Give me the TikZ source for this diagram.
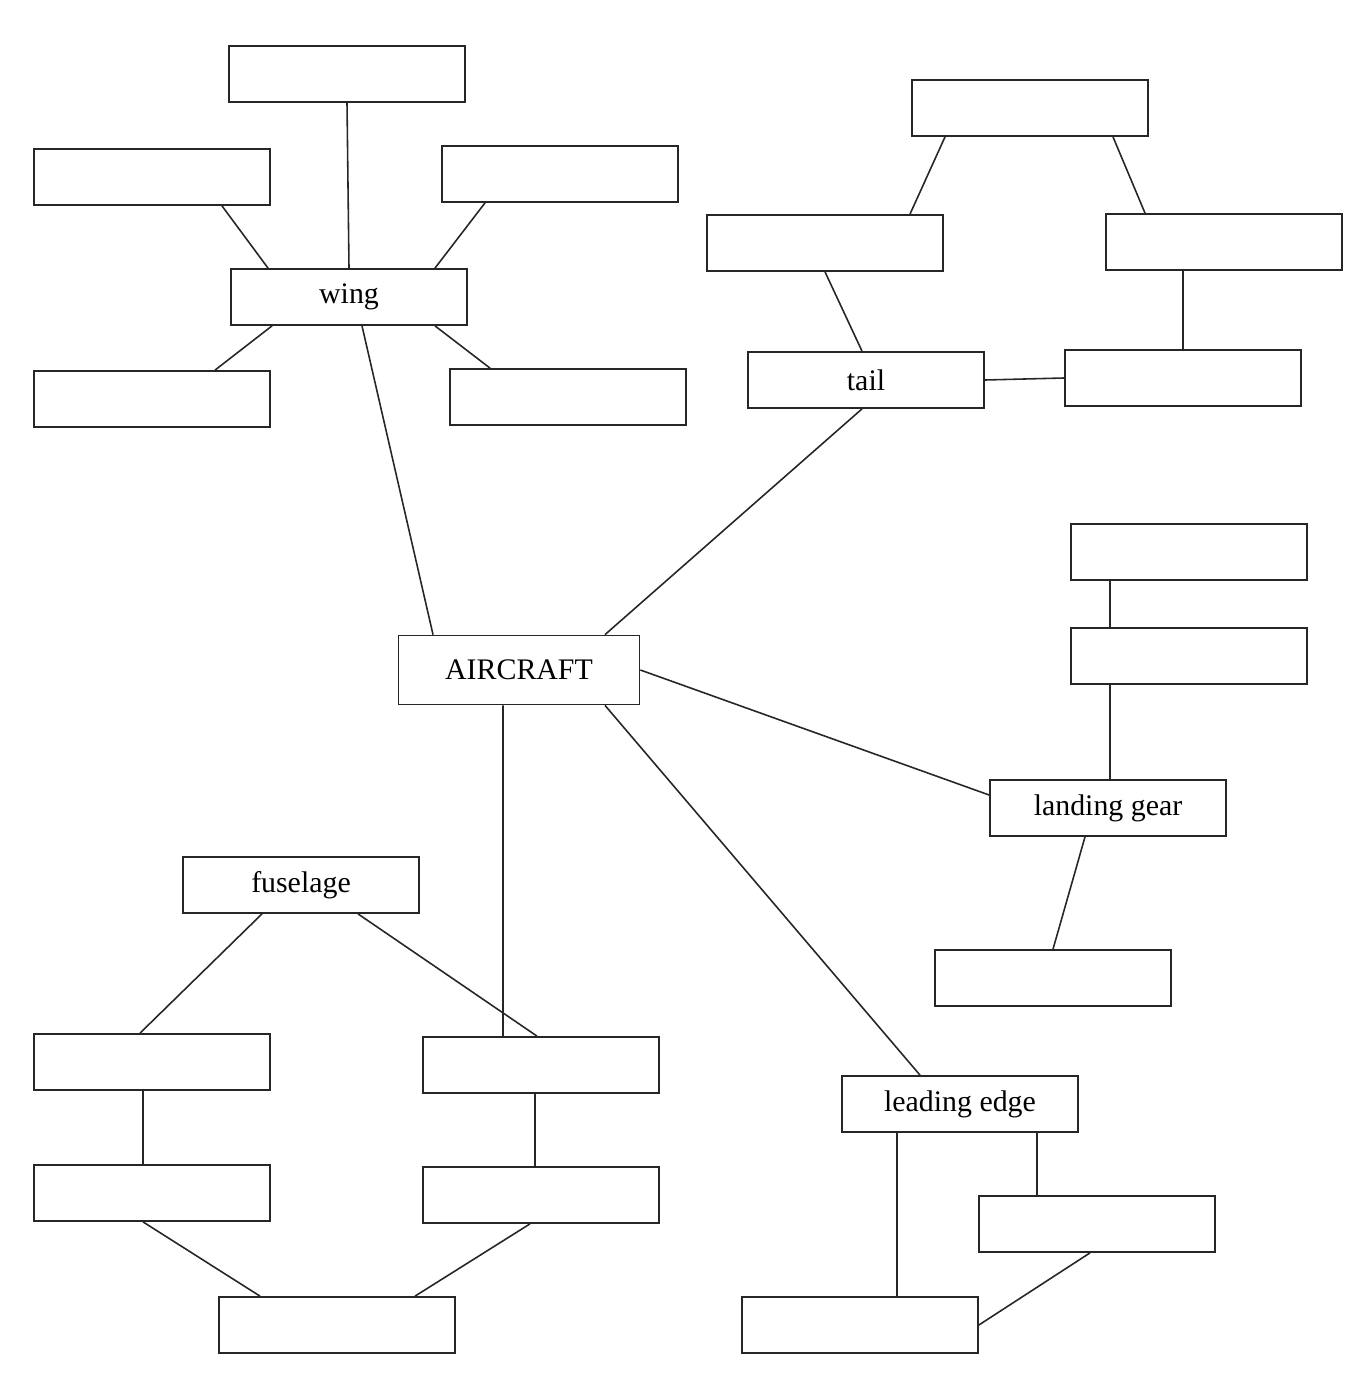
\documentclass[tikz,border=0pt]{standalone}
\usepackage{fontspec}
\setmainfont{Liberation Serif}
\usepackage{tikz}
\tikzset{
  part/.style={draw=black!85, line width=1pt, fill=white, minimum width=4.72cm,
    minimum height=1.12cm, inner sep=0pt, font=\fontsize{17}{20}\selectfont},
  hub/.style={part, minimum width=4.82cm, minimum height=1.38cm},
  link/.style={draw=black!85, line width=0.9pt}
}
\begin{document}
\begin{tikzpicture}[x=0.02cm, y=-0.02cm]
    \useasboundingbox (0,0) rectangle (1352,1385);

    % wing branch
    \node[part] (wtop) at (347,74) {};
    \node[part] (wul) at (152,177) {};
    \node[part] (wur) at (560,174) {};
    \node[part] (wing) at (349,297) {wing};
    \node[part] (wll) at (152,399) {};
    \node[part] (wlr) at (568,397) {};

    % tail branch
    \node[part] (ttop) at (1030,108) {};
    \node[part] (tml) at (825,243) {};
    \node[part] (tmr) at (1224,242) {};
    \node[part] (tail) at (866,380) {tail};
    \node[part] (tr) at (1183,378) {};

    % landing gear branch
    \node[part] (lg1) at (1189,552) {};
    \node[part] (lg2) at (1189,656) {};
    \node[part] (lg) at (1108,808) {landing gear};
    \node[part] (lgl) at (1053,978) {};

    \node[hub] (ac) at (519,670) {AIRCRAFT};

    % fuselage branch
    \node[part] (fus) at (301,885) {fuselage};
    \node[part] (fl1) at (152,1062) {};
    \node[part] (fr1) at (541,1065) {};
    \node[part] (fl2) at (152,1193) {};
    \node[part] (fr2) at (541,1195) {};
    \node[part] (fb) at (337,1325) {};

    % leading edge branch
    \node[part] (le) at (960,1104) {leading edge};
    \node[part] (ler) at (1097,1224) {};
    \node[part] (leb) at (860,1325) {};

    \draw[link] (wtop.south) -- (wing.north);
    \draw[link] ([xshift=1.4cm]wul.south) -- ([xshift=-1.62cm]wing.north);
    \draw[link] ([xshift=-1.5cm]wur.south) -- ([xshift=1.72cm]wing.north);
    \draw[link] ([xshift=-1.54cm]wing.south) -- ([xshift=1.26cm]wll.north);
    \draw[link] ([xshift=1.72cm]wing.south) -- ([xshift=-1.56cm]wlr.north);
    \draw[link] ([xshift=0.26cm]wing.south) -- ([xshift=-1.72cm]ac.north);

    \draw[link] ([xshift=-1.7cm]ttop.south) -- ([xshift=1.7cm]tml.north);
    \draw[link] ([xshift=1.66cm]ttop.south) -- ([xshift=-1.58cm]tmr.north);
    \draw[link] (tml.south) -- ([xshift=-0.08cm]tail.north);
    \draw[link] ([xshift=-0.82cm]tmr.south) -- (tr.north);
    \draw[link] (tail.east) -- (tr.west);
    \draw[link] ([xshift=-0.08cm]tail.south) -- ([xshift=1.72cm]ac.north);

    \draw[link] ([xshift=-1.58cm]lg1.south) -- ([xshift=-1.58cm]lg2.north);
    \draw[link] ([xshift=-1.58cm]lg2.south) -- ([xshift=0.04cm]lg.north);
    \draw[link] (ac.east) -- ([yshift=0.26cm]lg.west);
    \draw[link] ([xshift=-0.46cm]lg.south) -- (lgl.north);

    \draw[link] ([xshift=-0.32cm]ac.south) -- ([xshift=-0.76cm]fr1.north);
    \draw[link] ([xshift=1.72cm]ac.south) -- ([xshift=-0.8cm]le.north);

    \draw[link] ([xshift=-0.78cm]fus.south) -- ([xshift=-0.24cm]fl1.north);
    \draw[link] ([xshift=1.14cm]fus.south) -- ([xshift=-0.08cm]fr1.north);
    \draw[link] ([xshift=-0.18cm]fl1.south) -- ([xshift=-0.18cm]fl2.north);
    \draw[link] ([xshift=-0.12cm]fr1.south) -- ([xshift=-0.12cm]fr2.north);
    \draw[link] ([xshift=-0.18cm]fl2.south) -- ([xshift=-1.54cm]fb.north);
    \draw[link] ([xshift=-0.22cm]fr2.south) -- ([xshift=1.56cm]fb.north);

    \draw[link] ([xshift=-1.26cm]le.south) -- ([xshift=0.74cm]leb.north);
    \draw[link] ([xshift=1.54cm]le.south) -- ([xshift=-1.2cm]ler.north);
    \draw[link] ([xshift=-0.14cm]ler.south) -- (leb.east);
\end{tikzpicture}
\end{document}
